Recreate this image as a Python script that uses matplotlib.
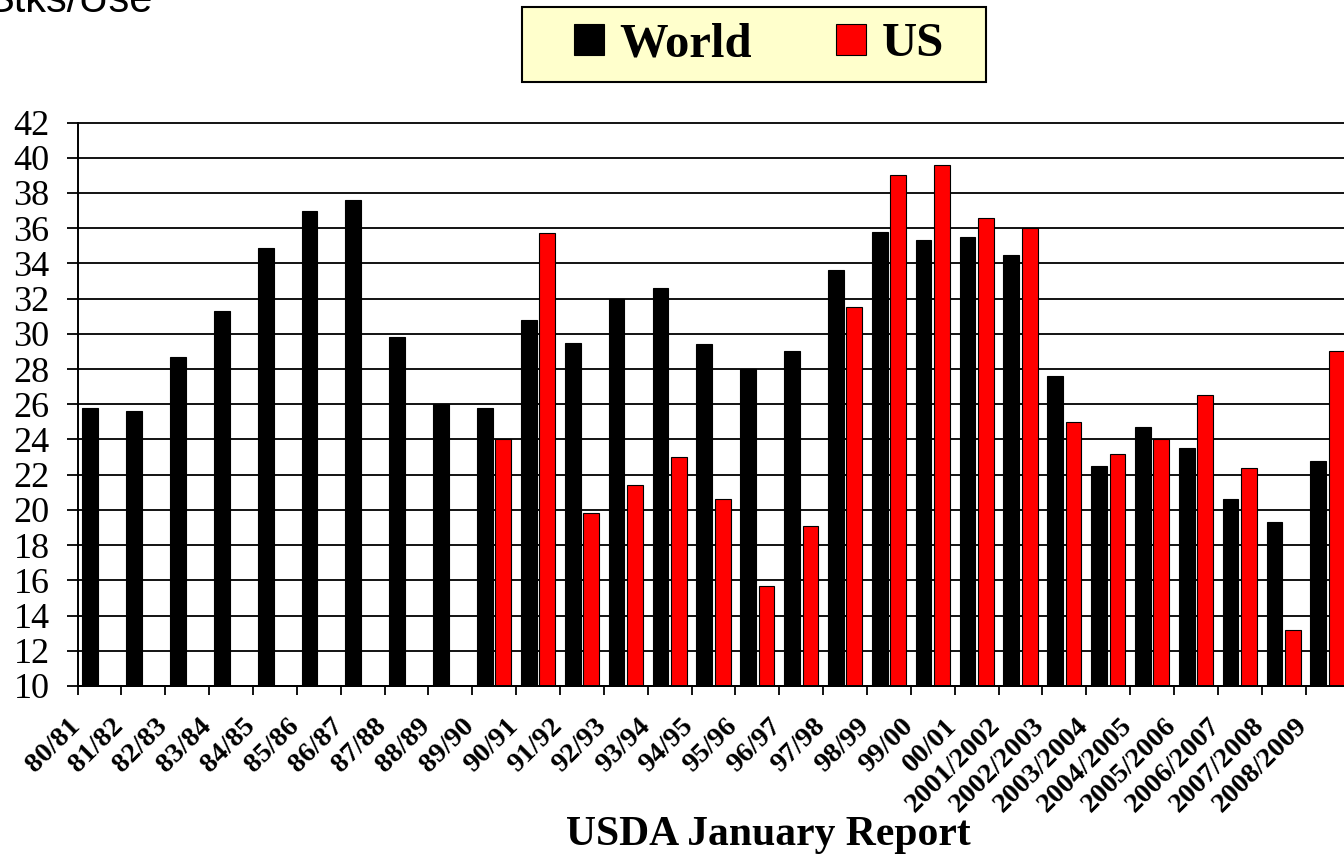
import numpy as np
import matplotlib
matplotlib.use('Agg')
import matplotlib.pyplot as plt
from matplotlib.patches import Rectangle
from matplotlib.transforms import blended_transform_factory

seasons = ['80/81', '81/82', '82/83', '83/84', '84/85', '85/86', '86/87', '87/88',
           '88/89', '89/90', '90/91', '91/92', '92/93', '93/94', '94/95', '95/96',
           '96/97', '97/98', '98/99', '99/00', '00/01', '2001/2002', '2002/2003',
           '2003/2004', '2004/2005', '2005/2006', '2006/2007', '2007/2008', '2008/2009']
world = [25.8, 25.6, 28.7, 31.3, 34.9, 37.0, 37.6, 29.8, 26.0, 25.8, 30.8, 29.5,
         32.0, 32.6, 29.4, 28.0, 29.0, 33.6, 35.8, 35.3, 35.5, 34.5, 27.6, 22.5,
         24.7, 23.5, 20.6, 19.3, 22.8]
us = [np.nan] * 9 + [24.0, 35.7, 19.8, 21.4, 23.0, 20.6, 15.7, 19.1, 31.5, 39.0,
                     39.6, 36.6, 36.0, 25.0, 23.2, 24.0, 26.5, 22.4, 13.2, 29.0]

plt.rcParams['font.family'] = 'Liberation Serif'

W, H = 1344, 856
fig = plt.figure(figsize=(W / 100, H / 100), dpi=100)
ax = fig.add_axes([77.5 / W, 1 - 686 / H, 1 - 77.5 / W, (686 - 122.5) / H])

x = np.arange(len(seasons))
bw = 0.36
b1 = ax.bar(x - 0.21, world, bw, color='black', edgecolor='black', linewidth=0.8, zorder=2)
b2 = ax.bar(x + 0.21, us, bw, color='#ff0000', edgecolor='black', linewidth=0.8, zorder=2)

ax.set_ylim(10, 42)
ax.set_yticks(range(10, 43, 2))
ax.set_xlim(-0.5, 28.376)
ax.set_xticks(x - 0.5)
ax.set_xticklabels([])

ax.yaxis.grid(True, color='black', lw=1.3)
ax.set_axisbelow(True)
for gl in ax.get_ygridlines():
    gl.set_clip_on(False)

for s in ['top', 'right']:
    ax.spines[s].set_visible(False)
for s in ['left', 'bottom']:
    ax.spines[s].set_color('black')
    ax.spines[s].set_linewidth(1.4)

ax.tick_params(axis='y', length=8, width=1.3, pad=12, labelsize=26)
ax.tick_params(axis='x', length=6.5, width=1.3)

# rotated season labels; baseline end sits just right of each category's left tick
trans = blended_transform_factory(ax.transData, ax.transAxes)
for i, s in enumerate(seasons):
    ax.text(i - 0.43, -41 / 563.5, s, transform=trans, rotation=45, ha='right',
            va='baseline', rotation_mode='anchor', fontsize=20.5, fontweight='bold',
            clip_on=False)

# legend box
fig.add_artist(Rectangle((522 / W, 1 - 82 / H), 464 / W, 75 / H, transform=fig.transFigure,
                         facecolor='#ffffcc', edgecolor='black', lw=1.5))
fig.legend([b1, b2], ['World', 'US'], loc='center', bbox_to_anchor=(759 / W, 1 - 44.5 / H),
           ncol=2, frameon=False, prop=dict(family='Liberation Serif', weight='bold', size=35),
           handlelength=0.62, handleheight=0.62, handletextpad=0.31, columnspacing=1.73)

fig.text(-14 / W, 1 - 12.5 / H, 'Stks/Use', family='Liberation Sans', fontsize=30,
         ha='left', va='baseline')
fig.text(768 / W, 1 - 845 / H, 'USDA January Report', fontsize=30, fontweight='bold',
         ha='center', va='baseline')

fig.savefig('out.png', dpi=100)
